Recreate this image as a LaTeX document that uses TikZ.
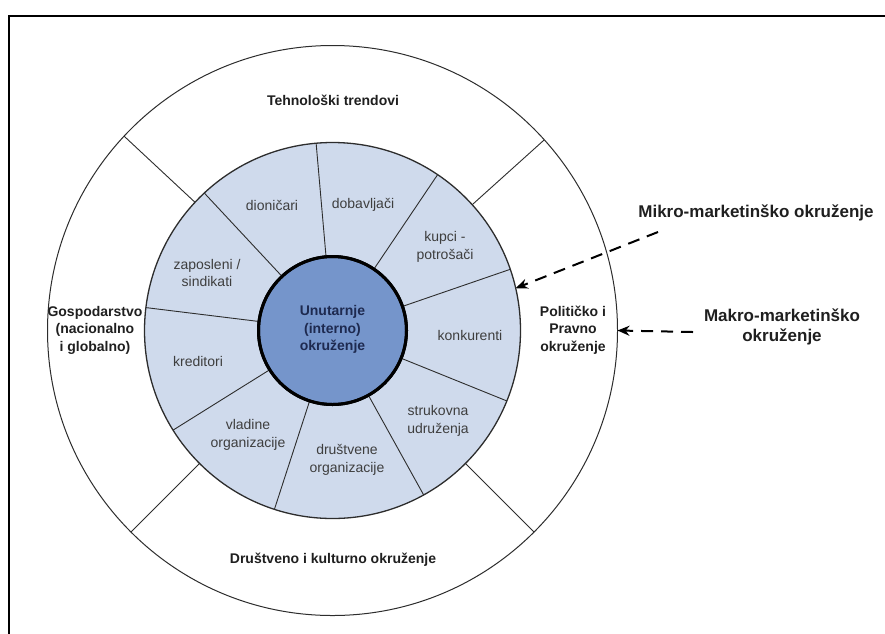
\documentclass[tikz,border=0pt]{standalone}
\usepackage{fontspec}
\setmainfont{Liberation Sans}
\usetikzlibrary{arrows.meta}
\definecolor{ringblue}{RGB}{207,218,236}
\definecolor{coreblue}{RGB}{117,149,203}
\definecolor{navy}{RGB}{30,42,80}
\definecolor{seggray}{RGB}{62,62,62}
\definecolor{linegray}{RGB}{45,45,45}
\begin{document}
\begin{tikzpicture}[x=1pt,y=-1pt,
  ring/.style={circle,draw=linegray,line width=1pt,inner sep=0pt,outer sep=0pt},
  divider/.style={draw=linegray,line width=0.9pt},
  seglabel/.style={align=center,text=seggray,font=\fontsize{14}{17.5}\selectfont,inner sep=0pt},
  macrolabel/.style={align=center,text=black!88,font=\bfseries\fontsize{14}{17.5}\selectfont,inner sep=0pt},
  corelabel/.style={align=center,text=navy,font=\bfseries\fontsize{14}{17.5}\selectfont,inner sep=0pt},
  keylabel/.style={align=center,text=black!88,font=\bfseries\fontsize{17}{20}\selectfont,inner sep=0pt},
  pointer/.style={draw=black,line width=2pt,dash pattern=on 12pt off 8pt,-{Stealth[length=12pt,width=10pt]}}
]
\useasboundingbox (0,0) rectangle (885,633);
\draw[line width=2pt] (9,640) -- (9,16) -- (890,16);

% rings
\node[ring,fill=white,minimum size=570pt] (outer) at (332.5,330.5) {};
\node[ring,fill=ringblue,minimum size=376pt,line width=1.3pt] (mid) at (332.5,330.5) {};
\node[circle,draw=black,line width=3pt,fill=coreblue,minimum size=148pt,inner sep=0pt,outer sep=0pt] (inner) at (332.5,330.5) {};

% dividers of the outer ring
\foreach \a in {42,137,225,315}
  \draw[divider] (outer.\a) -- (mid.\a);
% dividers of the middle ring
\foreach \a in {19,56,95,133,173,212,252,299,338}
  \draw[divider] (mid.\a) -- (inner.\a);
\node[circle,draw=black,line width=3pt,minimum size=148pt,inner sep=0pt,outer sep=0pt] (innerrim) at (inner.center) {};

% outer ring labels
\node[macrolabel] (tech) at (333,100) {Tehnološki trendovi};
\node[macrolabel] (econ) at (95,330) {Gospodarstvo\\(nacionalno\\i globalno)};
\node[macrolabel] (pol) at (573,330) {Političko i\\Pravno\\okruženje};
\node[macrolabel] (soc) at (333,560) {Društveno i kulturno okruženje};

% middle ring labels
\node[seglabel] (dion) at (272,205) {dioničari};
\node[seglabel] (dob) at (363,205) {dobavljači};
\node[seglabel] (kup) at (445,247) {kupci -\\potrošači};
\node[seglabel] (zap) at (207,273) {zaposleni /\\sindikati};
\node[seglabel] (kon) at (470,335) {konkurenti};
\node[seglabel] (kred) at (198,361) {kreditori};
\node[seglabel] (struk) at (438,421) {strukovna\\udruženja};
\node[seglabel] (vlad) at (248,435) {vladine\\organizacije};
\node[seglabel] (drus) at (347,460) {društvene\\organizacije};

% core label
\node[corelabel] (core) at (332.5,329.5) {Unutarnje\\(interno)\\okruženje};

% keys and pointers
\node[keylabel] (mikro) at (756,213) {Mikro-marketinško okruženje};
\node[keylabel] (makro) at (782,327) {Makro-marketinško\\okruženje};
\coordinate (mikroStart) at (658,232);
\coordinate (makroStart) at (693,332);
\draw[pointer] (mikroStart) -- (mid.13);
\draw[pointer] (makroStart) -- (outer.0);
\end{tikzpicture}
\end{document}
